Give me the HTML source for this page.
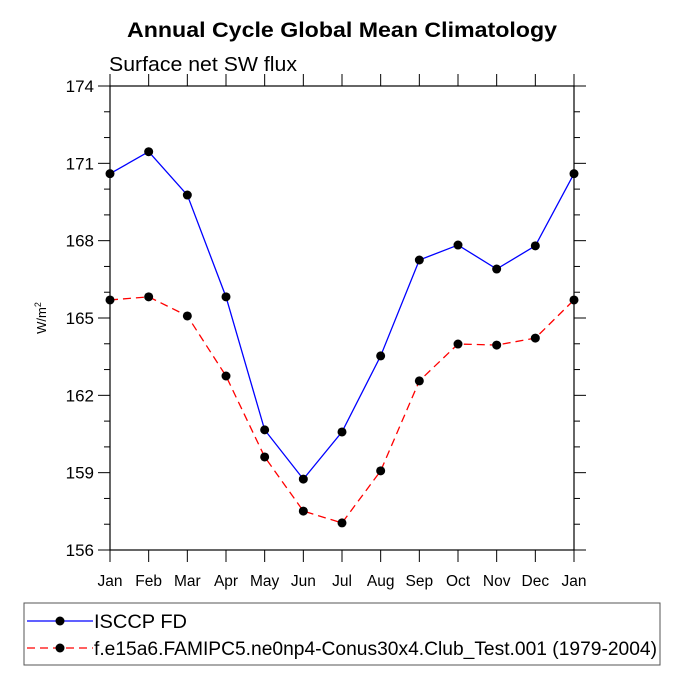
<!DOCTYPE html>
<html><head><meta charset="utf-8"><style>
body{margin:0;background:#fff;}
svg text{font-family:"Liberation Sans",Helvetica,Arial,sans-serif;fill:#000;}
</style></head><body>
<svg id="chart" width="684" height="684" viewBox="0 0 684 684" xmlns="http://www.w3.org/2000/svg">
<text x="342" y="37" text-anchor="middle" font-size="21" font-weight="bold" textLength="430" lengthAdjust="spacingAndGlyphs">Annual Cycle Global Mean Climatology</text>
<text x="109" y="71" font-size="20" textLength="188" lengthAdjust="spacingAndGlyphs">Surface net SW flux</text>
<text transform="translate(46,318) rotate(-90)" text-anchor="middle" font-size="13">W/m<tspan dy="-5" font-size="9">2</tspan></text>
<g id="axes"></g>
<g id="series"></g>
<rect x="24" y="603" width="636" height="62" fill="none" stroke="#555" stroke-width="1"/>
<g id="legend"></g>
</svg>
<script>
const months=["Jan","Feb","Mar","Apr","May","Jun","Jul","Aug","Sep","Oct","Nov","Dec","Jan"];
const isccp=[170.6,171.45,169.77,165.82,160.66,158.75,160.58,163.53,167.25,167.83,166.9,167.8,170.6];
const model=[165.7,165.82,165.08,162.75,159.61,157.51,157.05,159.07,162.56,163.99,163.95,164.22,165.7];
const yTicks=[156,159,162,165,168,171,174];
const seriesNames=["ISCCP FD","f.e15a6.FAMIPC5.ne0np4-Conus30x4.Club_Test.001 (1979-2004)"];
const L=110,R=574,T=86,B=550,ymin=156,ymax=174;
const xs=i=>L+i*(R-L)/12;
const ys=v=>B-(v-ymin)/(ymax-ymin)*(B-T);
const NS="http://www.w3.org/2000/svg";
function mk(tag,attrs,parent){const e=document.createElementNS(NS,tag);for(const k in attrs)e.setAttribute(k,attrs[k]);parent.appendChild(e);return e;}
const ax=document.getElementById('axes');
let e=mk('rect',{x:L,y:T,width:R-L,height:B-T,fill:'none',stroke:'#000','stroke-width':1.2},ax);


months.forEach((m,i)=>{const x=xs(i);
 mk('line',{x1:x,y1:B,x2:x,y2:B+12,stroke:'#000'},ax);
 mk('line',{x1:x,y1:T,x2:x,y2:T-12,stroke:'#000'},ax);
 const t=mk('text',{x:x,y:B+36,'text-anchor':'middle','font-size':15.5},ax);t.textContent=m;
 
 
});
for(let v=ymin;v<=ymax;v+=1){const y=ys(v);const major=yTicks.includes(v);const len=major?12:6;
 mk('line',{x1:L-len,y1:y,x2:L,y2:y,stroke:'#000'},ax);
 mk('line',{x1:R,y1:y,x2:R+len,y2:y,stroke:'#000'},ax);
}
yTicks.forEach(v=>{const t=mk('text',{x:L-16,y:ys(v)+6,'text-anchor':'end','font-size':17},ax);t.textContent=v;
 
 
});
const sg=document.getElementById('series');
function draw(vals,color,dash,name){
 const p=mk('polyline',{points:vals.map((v,i)=>xs(i)+','+ys(v)).join(' '),fill:'none',stroke:color,'stroke-width':1.3,'stroke-dasharray':dash},sg);
 
 
 vals.forEach((v,i)=>{const c=mk('circle',{cx:xs(i),cy:ys(v),r:4.5,fill:'#000'},sg);
  
  });
}
draw(isccp,'#0000ff','none','isccp');
draw(model,'#ff0000','8,5','model');
const lg=document.getElementById('legend');
const lens=[93,563];
[[621,'#0000ff','none'],[648,'#ff0000','8,5']].forEach((d,k)=>{
 const g=mk('g',{},lg);
 
 
 mk('line',{x1:27,y1:d[0],x2:93,y2:d[0],stroke:d[1],'stroke-width':1.3,'stroke-dasharray':d[2]},g);
 mk('circle',{cx:60,cy:d[0],r:4.5,fill:'#000'},g);
 const t=mk('text',{x:94,y:d[0]+7,'font-size':19,textLength:lens[k],lengthAdjust:'spacingAndGlyphs'},g);t.textContent=seriesNames[k];
});
</script>
</body></html>
